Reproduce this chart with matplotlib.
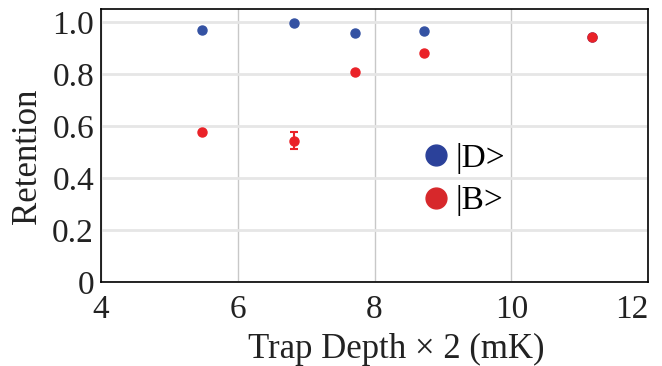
import numpy as np
import matplotlib.pyplot as plt
from matplotlib.lines import Line2D

plt.rcParams['font.family'] = ['Liberation Serif', 'DejaVu Serif']

# data
depth = [5.48, 6.82, 7.71, 8.72, 11.18]
ret_d = [0.969, 0.998, 0.958, 0.967, 0.944]
ret_b = [0.577, 0.543, 0.808, 0.880, 0.941]
err_b = [0.0, 0.033, 0.0, 0.0, 0.0]

xticks = [4, 6, 8, 10, 12]
yticks = [0, 0.2, 0.4, 0.6, 0.8, 1.0]
yticklabels = ['0', '0.2', '0.4', '0.6', '0.8', '1.0']

blue = '#3452a3'
red = '#ea2228'

fig = plt.figure(figsize=(6.62, 3.66), dpi=100)
ax = fig.add_axes([0.1526, 0.2295, 0.8264, 0.7459])

ax.plot(depth, ret_d, 'o', color=blue, ms=6.5, zorder=3)
ax.errorbar(depth, ret_b, yerr=err_b, fmt='o', color=red, ms=6.5,
            capsize=3, elinewidth=1.5, capthick=1.5, zorder=4)

ax.set_xlim(4, 12)
ax.set_ylim(0, 1.05)
ax.set_xticks(xticks)
ax.set_yticks(yticks)
ax.set_yticklabels(yticklabels)
ax.tick_params(length=0, labelsize=24, colors='#222222', pad=5)
ax.tick_params(axis='x', pad=9)
ax.grid(axis='y', color='#e6e6e6', lw=2)
ax.grid(axis='x', color='#c8c8c8', lw=1)
ax.set_axisbelow(True)
for s in ax.spines.values():
    s.set_linewidth(1.2)
    s.set_color('black')

lbls = ax.get_xticklabels()
lbls[-1].set_horizontalalignment('right')
lbls[-1].set_x(12)

ax.set_xlabel('Trap Depth × 2 (mK)', fontsize=25, color='#222222')
ax.set_ylabel('Retention', fontsize=25, color='#222222')
ax.xaxis.set_label_coords(0.539, -0.186)
ax.yaxis.set_label_coords(-0.105, 0.46)

handles = [Line2D([], [], ls='', marker='o', color='#2b419a', ms=15),
           Line2D([], [], ls='', marker='o', color='#d7282b', ms=15)]
ax.legend(handles, ['|D>', '|B>'], loc='center left', bbox_to_anchor=(0.52, 0.375),
          frameon=False, fontsize=24, handletextpad=0.0, labelspacing=0.35,
          handlelength=1.2)

fig.savefig('out.png', dpi=100)
